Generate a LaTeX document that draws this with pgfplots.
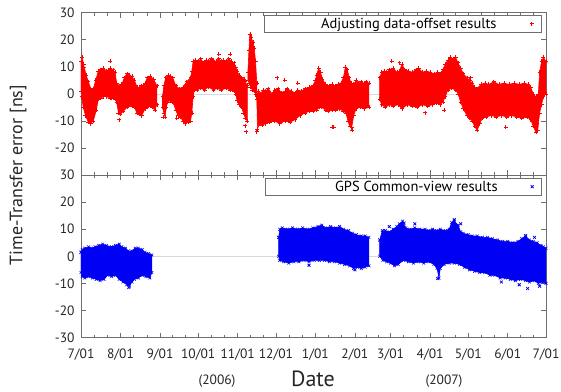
\documentclass[border=0pt]{standalone}
\usepackage{pgfplots}
\pgfplotsset{compat=1.18}
\usepackage{fontspec}
\setmainfont{PT Sans}
\definecolor{axgray}{RGB}{110,110,110}
\definecolor{pred}{RGB}{255,0,0}
\definecolor{pblue}{RGB}{0,0,245}
\newcommand{\ticks}{\fontsize{13.5bp}{15bp}\selectfont}
\pgfplotsset{
  common/.style={
    scale only axis, width=465bp, height=162.4bp,
    xmin=0, xmax=365, ymin=-30, ymax=30,
    xtick={0,31,62,92,123,153,184,215,243,274,304,335,365},
    minor xtick={10.3,20.7,41.3,51.7,72,82,102,112.7,133,143,163.3,173.7,194.3,204.7,224.3,233.7,253.3,263.7,284,294,314.3,324.7,345,355},
    major tick length=5bp, minor tick length=3bp,
    axis line style={axgray, line width=0.8pt},
    tick style={axgray, line width=0.6pt},
    tick label style={font=\ticks, text=black!85},
    yticklabel style={xshift=-3bp},
    xticklabel style={yshift=-8bp},
    unbounded coords=jump,
    legend plot pos=right,
    legend style={draw=axgray, line width=0.5pt, font=\fontsize{14.5bp}{16bp}\selectfont,
      inner xsep=8bp, inner ysep=1.5bp, row sep=0pt, legend cell align=right,
      nodes={inner xsep=3bp, inner ysep=1bp}},
  },
  legmark/.style={legend image code/.code={\draw[##1] plot coordinates {(0bp,0bp)};}},
}
\begin{document}
\begin{tikzpicture}
\begin{axis}[common, name=bot, at={(0,0)}, anchor=south west,
  ytick={-30,-20,-10,0,10,20,30}, yticklabels={-30,-20,-10,0,10,20,30},
  xticklabels={7/01,8/01,9/01,10/01,11/01,12/01,1/01,2/01,3/01,4/01,5/01,6/01,7/01},
  legend style={at={(0.991,0.982)}, anchor=north east}]
\addplot[black!15, line width=0.5pt, forget plot] coordinates {(0,0) (365,0)};
% segment 1
\addplot[pblue, fill=pblue, mark=x, mark size=2pt, line width=0.6pt, forget plot] coordinates {
(0,1.5) (1,2.5) (3,3) (6,3.5) (8,3) (11,3.5) (14,4) (17,4.5) (20,4) (24,3.5) (27,4) (30,4.5) (32,3.5) (35,3) (37,2) (40,2) (42.5,3) (45,3) (48,2.5) (50,1.5) (53,1) (55.6,0.5)
(55.6,-6) (54,-8) (51,-7.5) (48,-7) (45,-8) (42,-8.5) (40,-9.5) (38,-11) (36,-10.5) (33,-9.5) (30,-8.5) (27,-7) (24,-7.5) (21,-7) (18,-8.5) (15,-9) (12,-8.5) (9,-8) (6,-7.5) (3,-8) (1,-7.5) (0,-6) (0,1.5)};
% segment 2
\addplot[pblue, fill=pblue, mark=x, mark size=2pt, line width=0.6pt, forget plot] coordinates {
(155.2,7) (156,10) (158,10.5) (162,10) (166,10.5) (170,10) (174,10.5) (178,10) (182,10.5) (186,11) (189,11.5) (192,10.5) (196,11) (200,10.5) (203,11) (206,10) (210,9.5) (213,8.5) (216,8) (220,7.5) (223,7.5) (226,7)
(226,-3.5) (223,-4) (220,-4.5) (217,-4) (214,-4.5) (211,-3.5) (207,-3) (203,-2.5) (199,-2) (195,-2) (191,-1.5) (187,-1.5) (183,-1.5) (179,-2) (175,-1.5) (171,-2) (167,-2) (163,-2.5) (159,-2) (156,-1.5) (155.2,0) (155.2,7)};
% segment 3
\addplot[pblue, fill=pblue, mark=x, mark size=2pt, line width=0.6pt, forget plot] coordinates {
(234.5,6) (236.5,9.5) (239,9.5) (242,9) (245,10) (248,11) (250,12) (252.5,13) (255,10.5) (258,10) (262,10.5) (266,10) (270,10) (273,9.5) (276,10) (279,9.5) (282,10) (286,9.5) (289,10) (291,12.5) (293,13) (296,11.5) (298,9) (300,8.5) (304,8) (307,7.5) (311,7.5) (315,7) (319,7) (323,6.5) (327,6) (331,5.5) (335,5.5) (339,5) (343,5.5) (346,6.5) (349,7.5) (352,6) (355,5.5) (358,5) (361,4) (363,3.5) (365,3)
(365,-10) (362,-9.5) (359,-10) (356,-9) (352,-9.5) (349,-9) (345,-8.5) (341,-9) (337,-8.5) (333,-8) (329,-8) (325,-7) (321,-7) (317,-6) (313,-6) (309,-5.5) (305,-5) (301,-4) (297,-3) (293,-2.5) (289,-2.5) (285,-3) (282,-4.5) (281,-8) (279.5,-4.5) (277,-3) (273,-2) (269,-2.5) (265,-2) (261,-2.5) (257,-2) (253,-1.5) (249,-3) (246,-3.5) (243,-2.5) (240,-2) (237,-1.5) (234.5,0) (234.5,6)};
\addplot[pblue, mark=x, mark size=2pt, line width=0.8pt, legmark] coordinates {
(217,23.5) (217,nan) (179,-3.3) (179,nan) (253.6,12.3) (253.6,nan) (293,13.5) (293,nan) (349,7.7) (349,nan) (356,7) (356,nan) (350.6,-11.9) (350.6,nan) (280,-8.2) (280,nan) (344,-10.5) (344,nan) (330,-9.5) (330,nan) (360,-11) (360,nan) (37.5,-11.5) (37.5,nan) (298,12) (298,nan) (262,12) (262,nan) (242,11) (242,nan) (215,-5)};
\addlegendentry{\makebox[251bp][r]{GPS Common-view results\rule{30bp}{0pt}}}
\end{axis}
\begin{axis}[common, name=top, at={(bot.north west)}, anchor=south west,
  ytick={-20,-10,0,10,20,30}, yticklabels={-20,-10,0,10,20,30},
  xticklabels={},
  legend style={at={(0.991,0.986)}, anchor=north east}]
\addplot[black!15, line width=0.5pt, forget plot] coordinates {(0,0) (365,0)};
% A
\addplot[pred, fill=pred, mark=+, mark size=2pt, line width=0.6pt, forget plot] coordinates {
(0,12) (1,13.5) (2,11) (4,7) (5.8,4.5) (8,1.5) (9.7,2) (11.5,5) (13.6,8.5) (15.5,9) (17.6,9.5) (20,8.5) (22.8,9.5) (25,9) (26.7,8) (28,4) (30,3) (32,3.5) (34,6) (36,7.5) (38,7) (39.9,6.5) (42,5) (44,2.5) (46,2.5) (47.7,3) (50.3,4) (52,6) (54.3,6.5) (57,5.5) (59.5,3)
(59.5,-4) (58,-6) (56,-5) (54.3,-4.5) (52,-5) (50.3,-5.5) (47.7,-8) (45.5,-7.5) (43.8,-7) (42,-5) (39.9,-4.5) (36,-5) (33,-6.5) (31,-7.5) (29.4,-7) (28,-3) (26.7,-2) (24,-1.5) (22.8,-1.5) (20,-1) (17.6,-1) (15.5,-1.5) (13.6,-2) (12,-6) (9.7,-10) (7.5,-11) (5.8,-10.5) (3.5,-8) (1.8,-5) (0.5,-1) (0,1) (0,12)};
% B+C
\addplot[pred, fill=pred, mark=+, mark size=2pt, line width=0.6pt, forget plot] coordinates {
(64,-1) (65,3) (66.5,6) (68.5,7) (70,6.5) (72,6) (74.5,3) (77,2) (80,2.5) (83,4.5) (86,6) (87,8.5) (88,12) (90,12.5) (92,12) (94,13) (96,11.5) (98,12.5) (100,12) (102,13) (104,12.5) (106,12) (108,13) (110,12) (112,12.5) (114,12) (116,13) (118,12) (120,11.5) (121.5,10) (122.5,8.5) (124,7) (126,6) (128,5.5) (129,4.5) (130.5,3)
(130.5,-10) (129,-9) (127.5,-7) (126,-5) (124,-4) (122.5,-2.5) (121.5,0) (120,1) (117,1.5) (114,2) (110,1.5) (107,2) (104,1.5) (100,2.5) (97,1.5) (94,2) (91,1.5) (89,1.5) (88,-1) (87,-7) (86,-10) (84,-10.5) (82,-11) (80,-10) (78,-8.5) (76,-8) (74.5,-6) (72,-3) (70,-2.5) (68,-3) (67,-5) (66,-8.5) (65,-7) (64,-5) (64,-1)};
% spike
\addplot[pred, fill=pred, mark=+, mark size=2pt, line width=0.6pt, forget plot] coordinates {
(131,8) (131.8,16) (132.5,22) (133.5,21) (135,19) (136,17) (137,12) (138,4)
(138,-2) (137,0) (136,1) (134.5,1.5) (133,2.5) (132,4) (131,5) (131,8)};
% D
\addplot[pred, fill=pred, mark=+, mark size=2pt, line width=0.6pt, forget plot] coordinates {
(138,-1) (139,1) (141,0) (143,1.5) (145,1) (147,2) (150,0) (152,1.5) (155,2) (157,0.5) (160,1) (162,2) (165,1) (168,0.5) (170,1.5) (173,1) (176,2) (179,2.5) (182,3) (184,5) (185,7) (186.5,9.5) (188,8) (189.5,5.5) (192,3.5) (195,3) (197,3.5) (200,3) (202,3.5) (204,4) (206,6) (207.5,10) (209,9) (210.5,6) (212,4) (214,3.5) (216,5) (218,4) (220,4.5) (222,4) (224,4.5) (226,4)
(226,-5) (222,-5.5) (219,-5) (216,-5.5) (214,-8) (212.5,-12.5) (211,-12) (209.5,-10) (208,-7) (206,-6.5) (203,-5.5) (200,-6) (197,-6) (194,-6.5) (192,-6) (189,-5) (187,-5) (185,-6) (182,-6.5) (179,-6.5) (176,-7) (172,-8) (168,-9.5) (164,-10.5) (160,-10) (156,-11) (152,-10) (148,-10.5) (145,-11) (142,-11.5) (140,-11) (138.5,-13) (138,-1)};
% E
\addplot[pred, fill=pred, mark=+, mark size=2pt, line width=0.6pt, forget plot] coordinates {
(234.5,6) (236,8) (238,8.5) (240,8) (242,9) (245,9.5) (248,8) (250,8.5) (252,11) (254,9) (257,8.5) (260,8) (263,9) (265,9.5) (268,8) (271,8.5) (274,8) (277,7.5) (280,8) (282,7.5) (284,9) (286,11) (288,12.5) (290,13.5) (292,13) (294,13.5) (296,11.5) (298,9.5) (300,7.5) (303,6) (305,5) (307,4) (309,2.5) (311,2) (314,3.5) (317,4) (320,3.5) (324,4.5) (328,3.5) (332,4) (336,3.5) (340,4) (344,3.5) (348,4) (351,3.5) (353,2.5) (355,0) (357,-1) (359,0) (360,8) (361.5,12) (363,13.5) (365,12)
(365,0) (363,-1) (361.5,-4) (360,-7) (358.5,-13.5) (357,-14) (355,-12) (353,-9.5) (350,-8.5) (346,-9) (342,-8.5) (338,-8) (334,-8.5) (330,-8) (326,-8.5) (322,-8) (318,-8.5) (315,-9) (313,-11) (311,-13.5) (309,-12) (307,-10) (305,-9) (303,-8) (300,-5.5) (298,-3) (296,0) (294,1.5) (291,2) (288,1.5) (286,-1) (284,-3) (282,-4) (279,-3.5) (276,-4) (272,-4.5) (268,-4) (264,-5) (260,-4.5) (256,-4) (252,-5.5) (249,-4) (245,-4.5) (242,-4) (239,-5) (236,-4) (234.5,-2) (234.5,6)};
\addplot[pred, mark=+, mark size=2pt, line width=0.8pt, legmark] coordinates {
(64.5,-8.6) (64.5,nan) (108,14.7) (108,nan) (117,14.7) (117,nan) (129,-11.7) (129,nan) (129.5,-14) (129.5,nan) (138,-14) (138,nan) (154,6) (154,nan) (160,5) (160,nan) (197,-12.3) (197,nan) (198.5,-12.3) (198.5,nan) (213,-13.5) (213,nan) (333.5,-12.3) (333.5,nan) (306,6) (306,nan) (250,11.5) (250,nan) (244,12) (244,nan) (23,12) (23,nan) (30,-9.5) (30,nan) (75,-9) (75,nan) (170,4) (170,nan) (270,-7) (270,nan) (285,-6)};
\addlegendentry{\makebox[251bp][r]{Adjusting data-offset results\rule{30bp}{0pt}}}
\end{axis}
\node[rotate=90, inner sep=0pt, font=\fontsize{18bp}{20bp}\selectfont, text=black!85] at ([xshift=-63bp]bot.north west) {Time-Transfer error [ns]};
\node[inner sep=0pt, font=\fontsize{22bp}{24bp}\selectfont, text=black!85] at ([xshift=232bp,yshift=-41.5bp]bot.south west) {Date};
\node[inner sep=0pt, font=\ticks, text=black!85] at ([xshift=136bp,yshift=-43.5bp]bot.south west) {(2006)};
\node[inner sep=0pt, font=\ticks, text=black!85] at ([xshift=363bp,yshift=-43.5bp]bot.south west) {(2007)};
\pgfresetboundingbox
\useasboundingbox ([xshift=-81bp,yshift=-54.5bp]bot.south west) rectangle ([xshift=480bp,yshift=337.5bp]bot.south west);
\end{tikzpicture}
\end{document}
